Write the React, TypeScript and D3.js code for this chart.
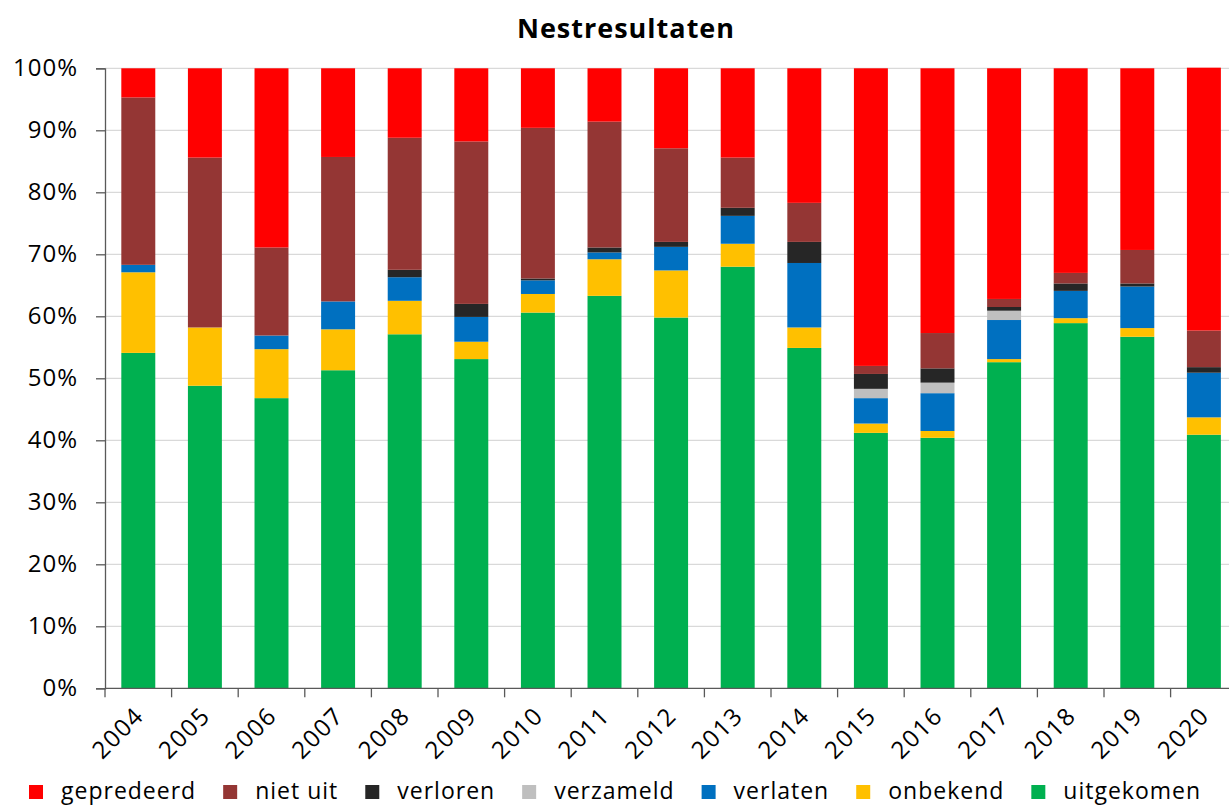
import React, { useRef, useEffect } from 'react';
import * as d3 from 'd3';

const years = ['2004', '2005', '2006', '2007', '2008', '2009', '2010', '2011', '2012', '2013', '2014', '2015', '2016', '2017', '2018', '2019', '2020'];

// percentages per year
const uitgekomen = [54.1, 48.8, 46.8, 51.3, 57.1, 53.1, 60.6, 63.3, 59.8, 68.0, 54.9, 41.2, 40.4, 52.6, 58.9, 56.7, 40.9];
const onbekend = [13.0, 9.4, 7.9, 6.6, 5.4, 2.8, 3.0, 5.9, 7.6, 3.7, 3.3, 1.5, 1.1, 0.5, 0.8, 1.4, 2.8];
const verlaten = [1.2, 0, 2.2, 4.5, 3.8, 4.0, 2.2, 1.1, 3.8, 4.5, 10.4, 4.1, 6.1, 6.3, 4.4, 6.7, 7.2];
const verzameld = [0, 0, 0, 0, 0, 0, 0, 0, 0, 0, 0, 1.5, 1.7, 1.5, 0, 0, 0];
const verloren = [0, 0, 0, 0, 1.2, 2.1, 0.3, 0.8, 0.8, 1.3, 3.4, 2.4, 2.3, 0.6, 1.2, 0.5, 0.9];
const nietUit = [27.0, 27.4, 14.2, 23.3, 21.3, 26.2, 24.3, 20.3, 15.1, 8.1, 6.3, 1.3, 5.7, 1.3, 1.7, 5.4, 5.9];
const gepredeerd = [4.7, 14.4, 28.9, 14.3, 11.2, 11.8, 9.6, 8.6, 12.9, 14.4, 21.7, 48.0, 42.7, 37.2, 33.0, 29.3, 42.4];

const yTicks = [0, 10, 20, 30, 40, 50, 60, 70, 80, 90, 100];

// bottom to top
const seriesKeys = ['uitgekomen', 'onbekend', 'verlaten', 'verzameld', 'verloren', 'niet uit', 'gepredeerd'];
const seriesValues = [uitgekomen, onbekend, verlaten, verzameld, verloren, nietUit, gepredeerd];
const colors = ['#00B050', '#FFC000', '#0070C0', '#BFBFBF', '#262626', '#943634', '#FF0000'];

// legend order as in the picture
const legendKeys = ['gepredeerd', 'niet uit', 'verloren', 'verzameld', 'verlaten', 'onbekend', 'uitgekomen'];

const W = 1229;
const H = 806;
const FONT = '"Open Sans", sans-serif';

const App = () => {
  const svgRef = useRef<SVGSVGElement | null>(null);

  useEffect(() => {
    const svg = d3.select(svgRef.current);
    svg.selectAll('*').remove();

    const left = 105;
    const top = 68.3;
    const bottom = 688.3;
    // the plot runs past the right edge of the picture
    const right = left + 17 * 66.6;

    const rows = years.map((y, i) => {
      const row: any = { year: y };
      seriesKeys.forEach((k, j) => { row[k] = seriesValues[j][i]; });
      return row;
    });

    const layers = d3.stack().keys(seriesKeys)(rows);

    const x = d3.scaleBand().domain(years).range([left, right]).paddingInner(0.49).paddingOuter(0.245);
    const y = d3.scaleLinear().domain([0, 100]).range([bottom, top]);
    const color = d3.scaleOrdinal<string, string>().domain(seriesKeys).range(colors);

    // gridlines
    svg.append('g')
      .selectAll('line')
      .data(yTicks.filter(t => t > 0))
      .enter().append('line')
      .attr('x1', left).attr('x2', W)
      .attr('y1', d => y(d)).attr('y2', d => y(d))
      .attr('stroke', '#d9d9d9').attr('stroke-width', 1.3);

    // bars
    svg.append('g')
      .selectAll('g')
      .data(layers)
      .enter().append('g')
      .attr('fill', d => color(d.key))
      .selectAll('rect')
      .data(d => d)
      .enter().append('rect')
      .attr('x', (d: any) => x(d.data.year)!)
      .attr('y', d => y(d[1]))
      .attr('width', x.bandwidth())
      .attr('height', d => Math.max(0, y(d[0]) - y(d[1])));

    // y axis
    const yAxis = svg.append('g')
      .attr('transform', `translate(${left},0)`)
      .call(d3.axisLeft(y).tickValues(yTicks).tickFormat(d => `${d}%`).tickSize(9).tickPadding(18));
    yAxis.select('.domain').attr('stroke', '#595959').attr('stroke-width', 1.3);
    yAxis.selectAll('.tick line').attr('stroke', '#595959').attr('stroke-width', 1.3);
    yAxis.selectAll('text')
      .attr('font-family', FONT).attr('font-size', 24).attr('letter-spacing', 1).attr('fill', '#000');

    // x axis
    const xg = svg.append('g').attr('transform', `translate(0,${bottom})`);
    xg.append('line')
      .attr('x1', left).attr('x2', W).attr('y1', 0).attr('y2', 0)
      .attr('stroke', '#595959').attr('stroke-width', 1.3);
    xg.selectAll('line.tk')
      .data(d3.range(years.length + 1))
      .enter().append('line')
      .attr('class', 'tk')
      .attr('x1', i => left + i * x.step()).attr('x2', i => left + i * x.step())
      .attr('y1', 0).attr('y2', 9)
      .attr('stroke', '#595959').attr('stroke-width', 1.3);
    xg.selectAll('text')
      .data(years)
      .enter().append('text')
      .attr('transform', d => `translate(${x(d)! + x.bandwidth() / 2 - 5},${17}) rotate(-45)`)
      .attr('text-anchor', 'end')
      .attr('dy', '0.7em')
      .attr('font-family', FONT).attr('font-size', 24).attr('letter-spacing', 1.5)
      .text(d => d);

    // title
    svg.append('text')
      .attr('x', 626).attr('y', 38)
      .attr('text-anchor', 'middle')
      .attr('font-family', FONT).attr('font-weight', 'bold').attr('font-size', 27).attr('letter-spacing', 1)
      .text('Nestresultaten');

    // legend
    const lg = svg.append('g').attr('transform', 'translate(29,0)');
    let lx = 0;
    legendKeys.forEach(k => {
      const item = lg.append('g').attr('transform', `translate(${lx},0)`);
      item.append('rect')
        .attr('x', 0).attr('y', 785).attr('width', 14).attr('height', 14)
        .attr('fill', color(k));
      const t = item.append('text')
        .attr('x', 32).attr('y', 799)
        .attr('font-family', FONT).attr('font-size', 23).attr('letter-spacing', 1)
        .text(k);
      const w = (t.node() as SVGTextElement).getComputedTextLength();
      lx += 32 + w + 27;
    });
  }, []);

  return (
    <svg
      ref={svgRef}
      width={W}
      height={H}
      style={{ position: 'absolute', left: 0, top: 0, background: '#fff' }}
    />
  );
};

export default App;
